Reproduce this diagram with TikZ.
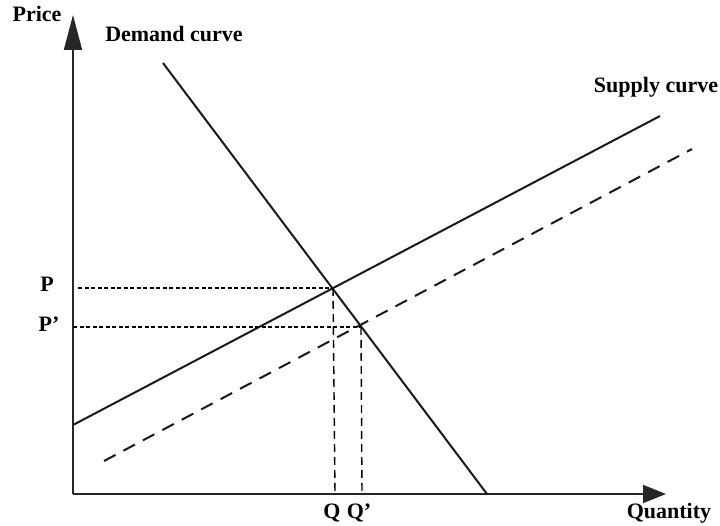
\documentclass[tikz,border=0pt]{standalone}
\usepackage{fontspec}
\setmainfont{Liberation Serif}
\usepackage{tikz}
\usetikzlibrary{arrows.meta}
\tikzset{
  axis/.style={line width=1.8pt, draw=black!85, -{Triangle[length=#1, width=18pt]}},
  curve/.style={line width=2pt, draw=black!90},
  shifted/.style={curve, dash pattern=on 13pt off 9pt},
  guide/.style={line width=1.1pt, draw=black, dash pattern=on 4pt off 2.5pt},
  drop/.style={line width=1.4pt, draw=black, dash pattern=on 8pt off 5pt},
  lbl/.style={font=\fontsize{22}{26}\selectfont\bfseries, inner sep=0pt, anchor=base}
}
\begin{document}
\begin{tikzpicture}[x=1pt, y=-1pt]
  \useasboundingbox (0,0) rectangle (720,526);
  % axes
  \coordinate (origin) at (73,494);
  \coordinate (ytip) at (73,15);
  \coordinate (xtip) at (666,494);
  \draw[axis=35pt] (origin) -- (ytip);
  \draw[axis=23pt] (origin) -- (xtip);
  \node[lbl] (price) at (37,22) {Price};
  \node[lbl] (quantity) at (669,518) {Quantity};

  % demand and supply
  \coordinate (dtop) at (163,63);
  \coordinate (dbot) at (487,494);
  \coordinate (sleft) at (73,425);
  \coordinate (sright) at (660,116);
  \coordinate (tleft) at (104,461);
  \coordinate (tright) at (692,149);
  \draw[curve] (dtop) -- (dbot);
  \draw[curve] (sleft) -- (sright);
  \draw[shifted] (tleft) -- (tright);
  \node[lbl] (demand) at (174,42) {Demand curve};
  \node[lbl] (supply) at (656,93) {Supply curve};

  % equilibria
  \coordinate (eq) at (333,288);
  \coordinate (eqnew) at (361,327);
  \coordinate (pax) at (78,288);
  \coordinate (pnewax) at (73,327);
  \coordinate (qax) at (335,494);
  \coordinate (qnewax) at (362,494);
  \draw[guide] (pax) -- (eq);
  \draw[guide] (pnewax) -- (eqnew);
  \draw[drop] (eq) -- (qax);
  \draw[drop] (eqnew) -- (qnewax);
  \node[lbl] (p) at (47,292) {P};
  \node[lbl] (pnew) at (49,332) {P’};
  \node[lbl] (q) at (332,518) {Q};
  \node[lbl] (qnew) at (359,518) {Q’};
\end{tikzpicture}
\end{document}
